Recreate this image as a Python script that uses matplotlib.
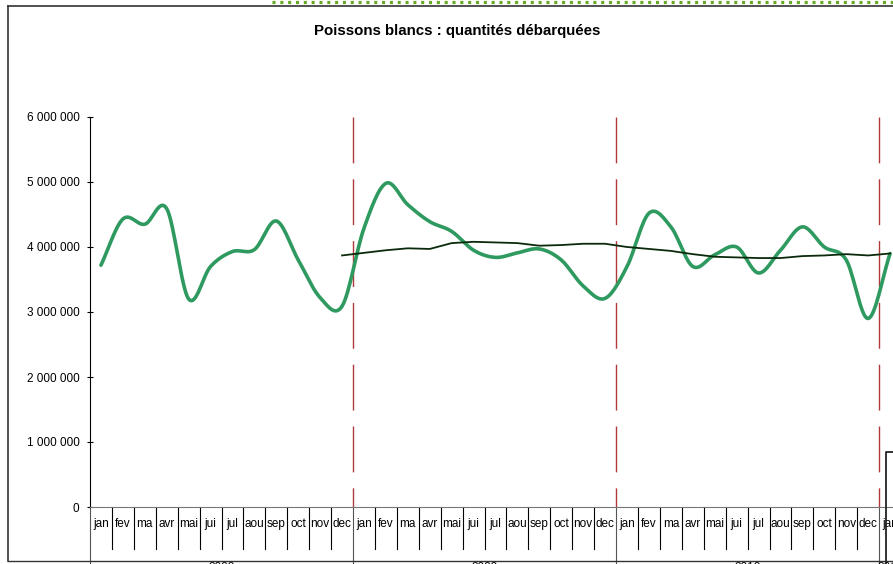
import numpy as np
import matplotlib.pyplot as plt
from matplotlib.lines import Line2D
from matplotlib.transforms import blended_transform_factory

plt.rcParams['font.family'] = ['Liberation Sans', 'DejaVu Sans']

# donnees
mois = ["jan", "fev", "ma", "avr", "mai", "jui", "jul", "aou", "sep", "oct", "nov", "dec"]
annees = ["2008", "2009", "2010", "2011"]

quantites = [3.72, 4.43, 4.35, 4.59, 3.20, 3.70, 3.93, 3.96, 4.40, 3.80, 3.22, 3.09,
             4.29, 4.98, 4.65, 4.39, 4.24, 3.95, 3.84, 3.91, 3.97, 3.80, 3.40, 3.21,
             3.70, 4.52, 4.31, 3.70, 3.88, 4.00, 3.60, 3.95, 4.31, 4.00, 3.80, 2.90,
             3.90]
quantites = [v * 1e6 for v in quantites]

# moyenne mobile, a partir de dec 2008
moy_mobile = [3.87,
              3.91, 3.95, 3.98, 3.97, 4.06, 4.08, 4.07, 4.06, 4.02, 4.03, 4.05, 4.05,
              4.00, 3.97, 3.94, 3.89, 3.85, 3.84, 3.83, 3.83, 3.86, 3.87, 3.89, 3.87,
              3.90]
moy_mobile = [v * 1e6 for v in moy_mobile]
debut_moy = 11

yticks = [0, 1e6, 2e6, 3e6, 4e6, 5e6, 6e6]


#courbe lissee type excel (catmull-rom)
def lisse(x, y, n=16):
    x = np.asarray(x, float)
    y = np.asarray(y, float)
    px = np.concatenate([[2*x[0]-x[1]], x, [2*x[-1]-x[-2]]])
    py = np.concatenate([[2*y[0]-y[1]], y, [2*y[-1]-y[-2]]])
    xs, ys = [], []
    t = np.linspace(0, 1, n, endpoint=False)
    for i in range(1, len(px)-2):
        for arr, out in ((px, xs), (py, ys)):
            p0, p1, p2, p3 = arr[i-1], arr[i], arr[i+1], arr[i+2]
            out.extend(0.5*((2*p1) + (-p0+p2)*t + (2*p0-5*p1+4*p2-p3)*t**2 + (-p0+3*p1-3*p2+p3)*t**3))
    xs.append(x[-1])
    ys.append(y[-1])
    return np.array(xs), np.array(ys)


W, H = 893, 564
fig = plt.figure(figsize=(W/100, H/100), dpi=100)

def fx(p):
    return p / W

def fy(p):
    return 1 - p / H

mpx = 21.92  # pixels par mois
nmois = 40
ax = fig.add_axes([fx(90), fy(507), nmois*mpx/W, 390/H])
ax.set_xlim(0, nmois)
ax.set_ylim(0, 6e6)

for s in ['top', 'right']:
    ax.spines[s].set_visible(False)
ax.spines['left'].set_color('black')
ax.spines['bottom'].set_color('#777777')
ax.set_yticks(yticks)
ax.set_yticklabels(["{:,}".format(int(v)).replace(",", " ") for v in yticks], fontsize=8.5)
ax.tick_params(axis='y', direction='inout', length=5, width=0.8, pad=5)
ax.set_xticks([])

# lignes pointillees rouges (changement d'annee)
for k in [12, 24, 36]:
    l, = ax.plot([k, k], [6e6, 0], color='#b03a3a', lw=1)
    l.set_dashes([33, 11.5])

x = np.arange(len(quantites)) + 0.5
xs, ys = lisse(x, quantites)
ax.plot(xs, ys, color='#2f9a60', lw=2.6, solid_capstyle='round')

xm = np.arange(len(moy_mobile)) + debut_moy + 0.5
ax.plot(xm, moy_mobile, color='#0b2a0b', lw=1.3)

# axe des categories a deux niveaux
tr = blended_transform_factory(ax.transData, ax.transAxes)
bas_sep = -42/390
for k in range(0, len(quantites) + 1):
    if k % 12 == 0:
        ax.plot([k, k], [0, -0.2], color='#555555', lw=0.8, transform=tr, clip_on=False)
    else:
        ax.plot([k, k], [0, bas_sep], color='black', lw=0.8, transform=tr, clip_on=False)
for k in range(len(quantites)):
    ax.text(k + 0.5, -17/390, mois[k % 12], transform=tr, ha='center', va='center',
            fontsize=8.5, clip_on=False)
centres = [6, 18, 30, 36.5]
for c, a in zip(centres, annees):
    ax.text(c, -55/390, a, transform=tr, ha='center', va='top', fontsize=8.5, clip_on=False)

# cadre du graphique
fig.add_artist(Line2D([fx(8), fx(8)], [fy(6), fy(561)], color='#333333', lw=1.2))
fig.add_artist(Line2D([fx(8), fx(W)], [fy(6), fy(6)], color='#333333', lw=1.2))
fig.add_artist(Line2D([fx(8), fx(W)], [fy(561), fy(561)], color='#333333', lw=1))
fig.add_artist(Line2D([fx(272), fx(W)], [fy(2), fy(2)], color='#66aa22', lw=2.3,
                      linestyle=(0, (0.95, 1.5))))
# coin de la legende coupee
fig.add_artist(Line2D([fx(886), fx(886), fx(W)], [fy(H), fy(452), fy(452)], color='#222222', lw=1.3))

fig.text(fx(457), fy(31), "Poissons blancs : quantités débarquées", ha='center', va='center',
         fontsize=10.8, fontweight='bold')

fig.savefig("out.png", dpi=100)
